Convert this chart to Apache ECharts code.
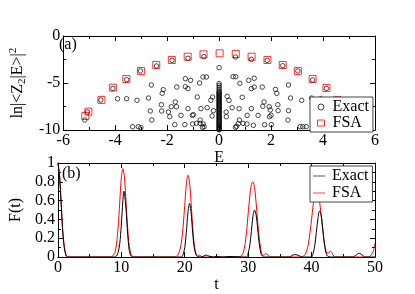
<!DOCTYPE html>
<html><head><meta charset="utf-8">
<script src="https://cdn.jsdelivr.net/npm/echarts@6/dist/echarts.min.js"></script>
<style>html,body{margin:0;padding:0;background:#fff}#c{width:415px;height:294px}</style>
</head><body><div id="c"></div>
<script>
// Panel (a): FSA squares [E, ln|<Z2|E>|^2]
const fsaE = [-5.15,-5.03,-4.53,-4.09,-3.57,-3.01,-2.42,-1.82,-1.21,-0.6,0.02,0.64,1.25,1.86,2.45,3.03,3.6,4.13,4.55,5.05,5.17];
const fsaV = [-8.5,-8.05,-6.8,-5.5,-4.57,-3.72,-3.09,-2.55,-2.2,-1.95,-1.84,-1.91,-2.2,-2.55,-3.09,-3.72,-4.57,-5.53,-6.8,-8.05,-8.5];
// Panel (a): exact circles
const exactE = [-5.17,-5.07,-4.55,-4.09,-3.56,-3.03,-2.41,-1.81,-1.2,-0.59,0.63,1.24,1.85,2.45,3.03,3.6,4.13,4.55,5.07,5.17,
 -3.91,-3.56,-3.16,-3.33,-3.11,-3.01,
 -1.3,-1.1,-0.62,-0.49,-2.61,-2.15,-2.19,-1.63,-1.3,-1.2,-0.75,-2.72,-0.84,-0.32,-0.25,-1.69,-1.84,-1.64,-2.22,-2.65,-2.21,-1.95,-1.9,-1.47,-1.2,-1.03,-0.99,-0.7,-0.46,-0.22,-0.27,-2.59,-1.71,-1.32,-1.02,-0.87,-0.73,-0.73,-0.64,-0.58,-0.61,
 0.0,0.54,0.64,1.14,1.35,0.8,1.24,1.35,1.66,2.17,2.22,2.67,0.31,0.38,0.89,1.73,2.26,2.75,0.5,0.77,1.24,1.68,1.93,1.97,2.27,2.67,0.27,0.28,1.08,1.5,1.94,2.0,2.65,0.78,0.74,0.92,1.07,1.32,1.75,0.63,0.67,2.01,
 3.18,3.56,3.91,3.12,3.22,3.35,
 0,0,0,0,0,0,0,0,0,0,0,0,0,0,0,0,0,0,0,0,0,0,0,0,0,0,0,0,0,0,0,0,0,0,0,0,0,0,0,0,0,0,0,0,0,0,0];
const exactV = [-8.94,-8.09,-6.81,-5.57,-4.65,-3.72,-3.19,-2.59,-2.37,-2.2,-2.23,-2.48,-2.59,-3.16,-3.72,-4.68,-5.57,-6.81,-8.09,-8.94,
 -6.67,-6.67,-6.84,-9.65,-9.65,-9.75,
 -4.54,-4.72,-4.36,-4.36,-5.21,-5.71,-6.1,-5.43,-5.39,-5.6,-5.0,-6.6,-6.49,-6.84,-6.49,-7.02,-7.52,-7.52,-7.31,-7.98,-7.98,-8.09,-8.59,-8.44,-7.73,-8.44,-8.37,-7.73,-7.63,-7.94,-8.51,-8.94,-9.43,-9.43,-9.36,-9.29,-8.94,-9.29,-9.72,-9.65,-9.36,
 -3.37,-4.33,-4.33,-4.72,-4.5,-5.03,-5.6,-5.43,-5.43,-5.68,-6.1,-5.21,-6.42,-6.84,-6.52,-7.02,-7.31,-6.6,-7.63,-7.73,-7.73,-7.48,-7.52,-7.87,-7.94,-7.94,-8.09,-8.59,-8.44,-8.44,-8.59,-8.44,-8.94,-8.94,-9.33,-9.29,-9.36,-9.5,-9.43,-9.72,-9.61,-9.43,
 -6.84,-6.6,-6.67,-9.65,-9.65,-9.65,
 -5.05,-5.25,-5.45,-5.65,-5.85,-5.95,-6.05,-6.16,-6.24,-6.35,-6.46,-6.55,-6.64,-6.75,-6.86,-6.95,-7.05,-7.14,-7.26,-7.35,-7.44,-7.55,-7.66,-7.75,-7.85,-7.94,-8.05,-8.16,-8.25,-8.34,-8.45,-8.56,-8.65,-8.74,-8.85,-8.96,-9.05,-9.14,-9.25,-9.36,-9.45,-9.54,-9.65,-9.74,-9.85,-9.93,-9.99];
// Panel (b): fidelity F(t)
const fsaT = [0,0.25,0.5,0.75,1.0,1.25,1.5,3,6,8.25,8.5,8.75,9.0,9.25,9.5,9.75,10.0,10.25,10.5,10.75,11.0,11.25,11.5,11.75,12.0,15,18.5,18.75,19.0,19.25,19.5,19.75,20.0,20.25,20.5,20.75,21.0,21.25,21.5,21.75,22.0,22.25,22.5,22.75,25,28.5,28.75,29.0,29.25,29.5,29.75,30.0,30.25,30.5,30.75,31.0,31.25,31.5,31.75,32.0,32.25,32.5,32.75,33.0,33.25,33.5,36,38.5,38.75,39.0,39.25,39.5,39.75,40.0,40.25,40.5,40.75,41.0,41.25,41.5,41.75,42.0,42.25,42.5,42.75,43.0,43.25,43.5,43.75,46,49.0,49.25,49.5,49.75,50];
const fsaF = [1.0,0.88,0.6,0.3,0.12,0.03,0.0,0,0,0,0.005,0.02,0.05,0.14,0.32,0.58,0.84,0.94,0.84,0.58,0.31,0.12,0.035,0.008,0,0,0,0.01,0.03,0.08,0.17,0.33,0.55,0.77,0.87,0.8,0.58,0.32,0.13,0.04,0.01,0.02,0.015,0,0,0,0.005,0.02,0.05,0.13,0.27,0.46,0.64,0.77,0.8,0.74,0.58,0.38,0.2,0.08,0.02,0.02,0.035,0.03,0.01,0,0,0,0.01,0.03,0.07,0.14,0.26,0.4,0.55,0.69,0.75,0.71,0.6,0.45,0.29,0.16,0.07,0.04,0.05,0.06,0.04,0.01,0,0,0,0.01,0.03,0.07,0.15];
const exT = [0,0.25,0.5,0.75,1.0,1.25,1.5,3,6,9.0,9.25,9.5,9.75,10.0,10.25,10.4,10.5,10.75,11.0,11.25,11.5,11.75,12,16,19.5,19.75,20.0,20.25,20.5,20.75,21.0,21.25,21.5,21.75,22.0,22.5,23.0,23.4,23.8,24.5,25,26,27,29.75,30.0,30.25,30.5,30.75,31.0,31.25,31.5,31.75,32.0,32.25,32.5,34,36.5,37.0,37.5,38.0,38.5,40.0,40.25,40.5,40.75,41.0,41.25,41.5,41.75,42.0,42.25,42.5,43,46.5,47.0,47.5,48.0,48.5,50];
const exF = [1.0,0.87,0.58,0.28,0.1,0.02,0.0,0,0,0,0.01,0.05,0.14,0.34,0.6,0.7,0.68,0.5,0.24,0.07,0.015,0,0,0,0,0.03,0.1,0.26,0.47,0.57,0.47,0.26,0.1,0.03,0.005,0,0.01,0.02,0.01,0,0.005,0,0.005,0,0.04,0.12,0.27,0.43,0.5,0.45,0.3,0.14,0.04,0.01,0,0,0,0.02,0.025,0.015,0,0,0.04,0.12,0.26,0.41,0.49,0.45,0.31,0.15,0.05,0.01,0,0,0.02,0.04,0.02,0,0];
const xTicksA = [-6,6,2], yTicksA = [-10,0,5], xTicksB = [0,50,10], yTicksB = [0,1,0.2];

const zip = (a,b) => a.map((v,i)=>[v,b[i]]);
const FONT = 'Liberation Serif';
const lbl = {color:'#000', fontFamily:FONT, fontSize:16};
function mkAxis(type, grid, pos, r, show, extra){
  return Object.assign({
    type:'value', gridIndex:grid, position:pos, min:r[0], max:r[1], interval:r[2],
    axisLine:{show:true, onZero:false, lineStyle:{color:'#000', width:1}},
    axisTick:{show:true, inside:true, length:5, lineStyle:{color:'#000'}},
    minorTick:{show:true, splitNumber:2, length:3, lineStyle:{color:'#000'}},
    splitLine:{show:false},
    axisLabel:{show:show, margin:3, ...lbl, showMinLabel:true, showMaxLabel:true}
  }, extra||{});
}
const chart = echarts.init(document.getElementById('c'), null, {renderer:'canvas'});
chart.setOption({
  animation:false,
  grid:[{left:54, top:36, width:321, height:94},{left:54, top:163, width:321, height:94}],
  xAxis:[
    mkAxis('x',0,'bottom',xTicksA,true,{name:'E', nameLocation:'middle', nameGap:13, nameTextStyle:lbl}),
    mkAxis('x',0,'top',xTicksA,false),
    mkAxis('x',1,'bottom',xTicksB,true,{name:'t', nameLocation:'middle', nameGap:15, nameTextStyle:lbl}),
    mkAxis('x',1,'top',xTicksB,false)
  ],
  yAxis:[
    mkAxis('y',0,'left',yTicksA,true,{name:'{a|ln|<Z}{s|2}{a||E>|}{p|2}', nameLocation:'middle', nameGap:25,
      nameTextStyle:{...lbl, rich:{a:{...lbl, lineHeight:20, verticalAlign:'middle'}, s:{...lbl, fontSize:11, lineHeight:20, verticalAlign:'bottom'}, p:{...lbl, fontSize:11, lineHeight:20, verticalAlign:'top'}}}}),
    mkAxis('y',0,'right',yTicksA,false),
    mkAxis('y',1,'left',yTicksB,true,{name:'F(t)', nameLocation:'middle', nameGap:27, nameTextStyle:lbl}),
    mkAxis('y',1,'right',yTicksB,false)
  ],
  legend:[
    {data:[{name:'Exact', icon:'circle', itemStyle:{color:'rgba(255,255,255,0)', borderColor:'#000', borderWidth:0.9}},
           {name:'FSA', icon:'rect', itemStyle:{color:'rgba(255,255,255,0)', borderColor:'#ff0000', borderWidth:1}}],
     orient:'vertical', left:310, top:97, itemGap:0, itemWidth:7, itemHeight:6,
     padding:[2,4,1,7], backgroundColor:'#fff', borderColor:'#444', borderWidth:1, borderRadius:0,
     textStyle:{...lbl, lineHeight:14, padding:[0,0,0,3]}},
    {data:[{name:'Exact ', icon:'rect', itemStyle:{color:'#555', borderWidth:0}}, {name:'FSA ', icon:'rect', itemStyle:{color:'#ff4040', borderWidth:0}}],
     orient:'vertical', left:310, top:166, itemGap:1, itemWidth:12, itemHeight:1,
     padding:[2,4,1,3], backgroundColor:'#fff', borderColor:'#444', borderWidth:1, borderRadius:0,
     formatter:n=>n.trim(), textStyle:{...lbl, lineHeight:14, padding:[0,0,0,2]}}
  ],
  graphic:[
    {type:'text', left:59, top:37, style:{text:'(a)', font:'16px "Liberation Serif"', fill:'#000'}},
    {type:'text', left:62, top:166, style:{text:'(b)', font:'16px "Liberation Serif"', fill:'#000'}}
  ],
  series:[
    {name:'FSA', type:'scatter', xAxisIndex:0, yAxisIndex:0, symbol:'rect', symbolSize:7,
     itemStyle:{color:'rgba(255,255,255,0)', borderColor:'#ff0000', borderWidth:1}, data:zip(fsaE,fsaV), z:2},
    {name:'Exact', type:'scatter', xAxisIndex:0, yAxisIndex:0, symbol:'circle', symbolSize:4.5,
     itemStyle:{color:'rgba(255,255,255,0)', borderColor:'#000', borderWidth:0.9}, data:zip(exactE,exactV), z:3},
    {name:'FSA ', type:'line', xAxisIndex:2, yAxisIndex:2, showSymbol:false, smooth:0.3,
     lineStyle:{color:'#ff0000', width:1}, itemStyle:{color:'#ff0000'}, data:zip(fsaT,fsaF), z:2},
    {name:'Exact ', type:'line', xAxisIndex:2, yAxisIndex:2, showSymbol:false, smooth:0.3,
     lineStyle:{color:'#000', width:1}, itemStyle:{color:'#000'}, data:zip(exT,exF), z:3}
  ]
});
</script></body></html>
